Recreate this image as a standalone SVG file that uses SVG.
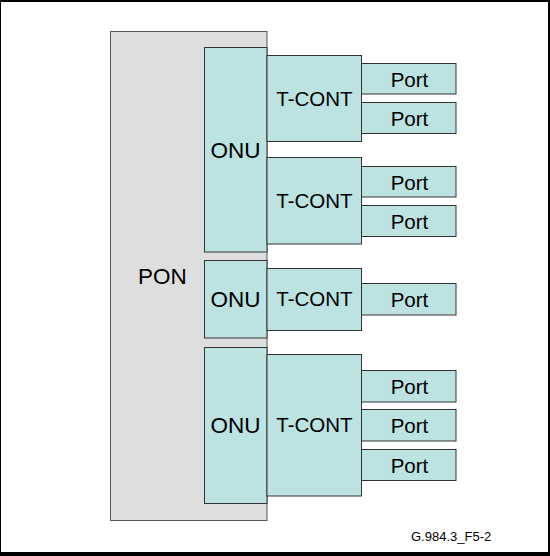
<svg xmlns="http://www.w3.org/2000/svg" width="550" height="556" viewBox="0 0 550 556">
<style>
.pon{fill:#dedede;stroke:#555;stroke-width:1}
.box{fill:#bde2e2;stroke:#333;stroke-width:1}
text{font-family:"Liberation Sans",Arial,sans-serif;font-size:20.5px;fill:#000;text-anchor:middle}
.big{font-size:22.5px}
.note{font-size:13px;text-anchor:start}
</style>
<rect x="0" y="0" width="550" height="556" fill="#000"/>
<rect x="1" y="2" width="547" height="550" fill="#fff"/>
<g id="pon"><rect class="pon" x="110.5" y="31.5" width="156.5" height="489"/><text class="big" x="162.5" y="284">PON</text></g>
<g id="onu1"><rect class="box" x="204.5" y="47.5" width="62.5" height="204.5"/><text class="big" x="235.5" y="157.5">ONU</text></g>
<g id="onu2"><rect class="box" x="204.5" y="260.5" width="62.5" height="77.5"/><text class="big" x="235.5" y="307">ONU</text></g>
<g id="onu3"><rect class="box" x="204.5" y="347.5" width="62.5" height="156"/><text class="big" x="235.5" y="433">ONU</text></g>
<g id="tcont1"><rect class="box" x="267" y="55.5" width="94.5" height="86"/><text x="314.5" y="106">T-CONT</text></g>
<g id="tcont2"><rect class="box" x="267" y="157.5" width="94.5" height="86.5"/><text x="314.5" y="208">T-CONT</text></g>
<g id="tcont3"><rect class="box" x="267" y="268.5" width="94.5" height="62"/><text x="314.5" y="306">T-CONT</text></g>
<g id="tcont4"><rect class="box" x="267" y="354.5" width="94.5" height="141.5"/><text x="314.5" y="432">T-CONT</text></g>
<g id="port1"><rect class="box" x="361.5" y="63.5" width="94.5" height="30.5"/><text x="409.5" y="86.5">Port</text></g>
<g id="port2"><rect class="box" x="361.5" y="102.5" width="94.5" height="31"/><text x="409.5" y="125.5">Port</text></g>
<g id="port3"><rect class="box" x="361.5" y="166.5" width="94.5" height="30.5"/><text x="409.5" y="189.5">Port</text></g>
<g id="port4"><rect class="box" x="361.5" y="205.5" width="94.5" height="31"/><text x="409.5" y="228.5">Port</text></g>
<g id="port5"><rect class="box" x="361.5" y="283.5" width="94.5" height="31.5"/><text x="409.5" y="306.5">Port</text></g>
<g id="port6"><rect class="box" x="361.5" y="370.5" width="94.5" height="31.5"/><text x="409.5" y="393.5">Port</text></g>
<g id="port7"><rect class="box" x="361.5" y="409.5" width="94.5" height="31.5"/><text x="409.5" y="432.5">Port</text></g>
<g id="port8"><rect class="box" x="361.5" y="449.5" width="94.5" height="31"/><text x="409.5" y="472.5">Port</text></g>
<g id="connectors"></g>
<text class="note" x="411" y="541">G.984.3_F5-2</text>
</svg>
